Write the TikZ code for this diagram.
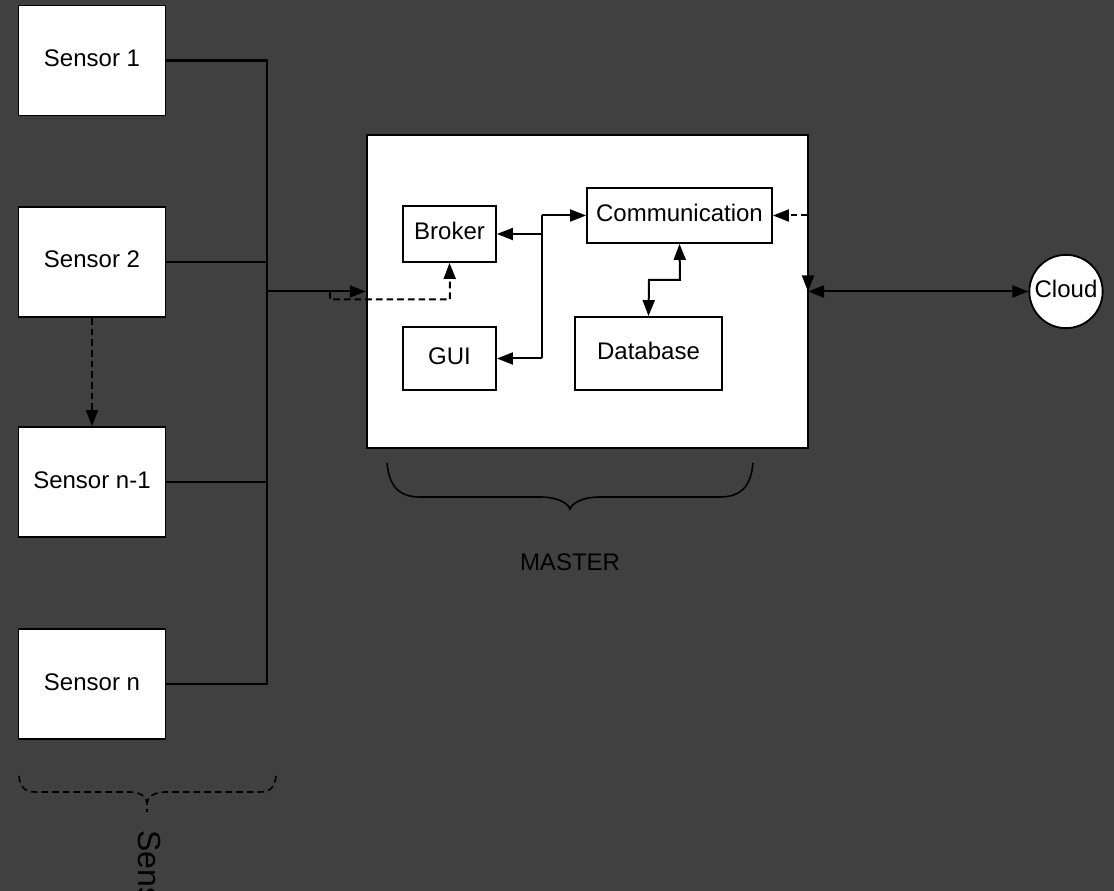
\documentclass[tikz,border=0pt]{standalone}
\usepackage{fontspec}
\setmainfont{Liberation Sans}
\usetikzlibrary{arrows.meta}
\definecolor{bg}{HTML}{404040}
\tikzset{
  box/.style={draw=black, fill=white, line width=1.4pt, inner sep=0pt, font=\fontsize{18}{21}\selectfont, text=black, text height=13pt, text depth=4pt},
  conn/.style={draw=black, line width=1.5pt},
  thin/.style={draw=black, line width=1.1pt},
  tip/.style={-{Triangle[length=12pt,width=9pt]}},
  dtip/.style={{Triangle[length=12pt,width=9pt]}-{Triangle[length=12pt,width=9pt]}},
  dsh/.style={dash pattern=on 5pt off 3pt},
  lbl/.style={font=\fontsize{18}{21}\selectfont, text=black, inner sep=0pt}
}
\begin{document}
\begin{tikzpicture}[x=0.75pt,y=-0.75pt]
\fill[bg] (0,0) rectangle (1114,891);
\useasboundingbox (0,0) rectangle (1114,891);
% sensors
\node[box, minimum width=110.25pt, minimum height=82.5pt] (s1) at (92,60.5) {Sensor 1};
\node[box, minimum width=110.25pt, minimum height=82.5pt] (s2) at (92,262) {Sensor 2};
\node[box, minimum width=110.25pt, minimum height=82.5pt] (sn1) at (92,482) {Sensor n-1};
\node[box, minimum width=110.25pt, minimum height=82.5pt] (sn) at (92,684) {Sensor n};
% master
\node[box, line width=1.8pt, minimum width=330.75pt, minimum height=234.75pt] (master) at (587.5,291.5) {};
\node[box, minimum width=69.75pt, minimum height=42pt] (broker) at (449.5,234) {Broker};
\node[box, minimum width=69.75pt, minimum height=47.25pt] (gui) at (449.5,358.5) {GUI};
\node[box, minimum width=138.75pt, minimum height=41.25pt] (comm) at (679.5,215.5) {Communication};
\node[box, minimum width=110.25pt, minimum height=54.75pt] (db) at (648.5,353.5) {Database};
\node[box, circle, minimum size=55pt] (cloud) at (1066,291.5) {Cloud};
% bus coordinates
\coordinate (b1) at (267,60.5);
\coordinate (b2) at (267,262);
\coordinate (b3) at (267,482);
\coordinate (b4) at (267,684);
\coordinate (bm) at (267,291.5);
\draw[conn, line width=1.7pt] (s1.east) -- (b1) -- (b4) -- (sn.east);
\draw[thin] (s2.east) -- (b2);
\draw[thin] (sn1.east) -- (b3);
\draw[conn, tip] (bm) -- (master.west);
\draw[conn, dsh, tip] (s2.south) -- (sn1.north);
% dashed to broker
\coordinate (d0) at (330,292);
\coordinate (d1) at (330,299.5);
\coordinate (d2) at (450,299.5);
\draw[conn, dsh, tip] (d0) -- (d1) -- (d2) -- (broker.south);
% junction
\coordinate (j1) at (542,215.5);
\coordinate (j2) at (542,234);
\coordinate (j3) at (542,358.5);
\draw[conn] (j1) -- (j3);
\draw[conn, tip] (j1) -- (comm.west);
\draw[conn, tip] (j2) -- (broker.east);
\draw[conn, tip] (j3) -- (gui.east);
% comm - database
\coordinate (c1) at (680,280);
\coordinate (c2) at (649,280);
\draw[conn, dtip] (comm.south) -- (c1) -- (c2) -- (db.north);
% right side
\coordinate (r1) at (808,215.5);
\coordinate (r2) at (808,291.5);
\draw[conn, dsh, tip] (r1) -- (comm.east);
\draw[conn, dsh, tip] (r1) -- (r2);
\draw[conn, dtip] (r2) -- (cloud.west);
% master brace
\draw[conn, line width=1.2pt] (387,463) .. controls (389,485) and (398,497) .. (420,497) -- (540,497) .. controls (560,497) and (570,505) .. (570,510);
\draw[conn, line width=1.2pt] (753,463) .. controls (751,485) and (742,497) .. (720,497) -- (600,497) .. controls (580,497) and (570,505) .. (570,510);
\node[lbl] (mlabel) at (570,562) {MASTER};
% sensors brace
\draw[conn, line width=1.2pt, dsh] (19,776) .. controls (20,786) and (24,792) .. (35,792) -- (130,792) .. controls (140,792) and (147,797) .. (147,803);
\draw[conn, line width=1.2pt, dsh] (276,776) .. controls (275,786) and (271,792) .. (260,792) -- (165,792) .. controls (155,792) and (147,797) .. (147,803) -- (147,812);
\node[lbl, font=\fontsize{24}{28}\selectfont, rotate=-90, anchor=west] (slabel) at (150,830) {Sensors};
\end{tikzpicture}
\end{document}
